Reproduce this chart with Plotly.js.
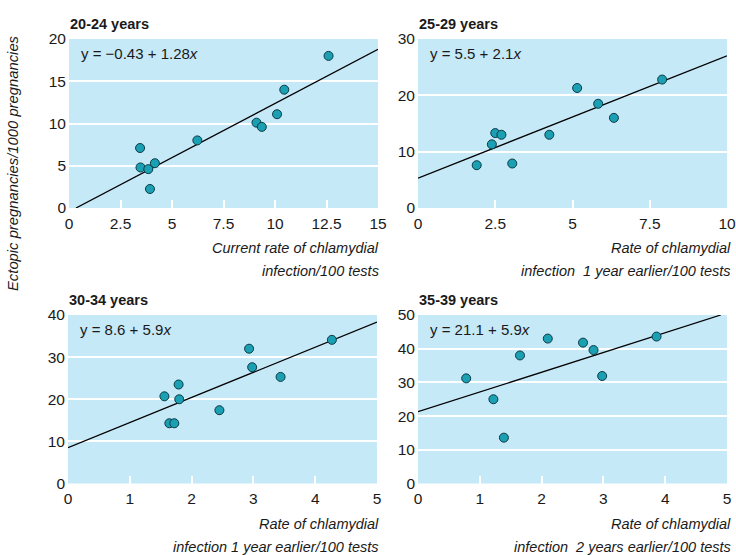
<!DOCTYPE html>
<html>
<head>
<meta charset="utf-8">
<script src="https://cdn.plot.ly/plotly-3.0.1.min.js"></script>
<style>
html,body{margin:0;padding:0;background:#fff;}
#chart{width:736px;height:555px;}
</style>
</head>
<body>
<div id="chart"></div>
<script>
// ---- data ----
const panelTitles = ["20-24 years", "25-29 years", "30-34 years", "35-39 years"];
const equations = ["y = \u22120.43 + 1.28<i>x</i>", "y = 5.5 + 2.1<i>x</i>", "y = 8.6 + 5.9<i>x</i>", "y = 21.1 + 5.9<i>x</i>"];
const xTitles1 = ["Current rate of chlamydial", "Rate of chlamydial", "Rate of chlamydial", "Rate of chlamydial"];
const xTitles2 = ["infection/100 tests", "infection  1 year earlier/100 tests", "infection 1 year earlier/100 tests", "infection  2 years earlier/100 tests"];
const yTitle = "Ectopic pregnancies/1000 pregnancies";

const p1x = [3.45, 3.47, 3.85, 3.93, 4.17, 6.23, 9.10, 9.36, 10.10, 10.45, 12.60];
const p1y = [7.1, 4.8, 4.6, 2.25, 5.3, 8.0, 10.1, 9.6, 11.1, 14.0, 18.0];
const p2x = [1.90, 2.39, 2.50, 2.70, 3.05, 4.25, 5.15, 5.83, 6.34, 7.90];
const p2y = [7.6, 11.3, 13.3, 13.0, 7.9, 13.0, 21.3, 18.5, 16.0, 22.8];
const p3x = [1.56, 1.64, 1.72, 1.79, 1.80, 2.45, 2.93, 2.98, 3.44, 4.27];
const p3y = [20.7, 14.3, 14.3, 23.5, 20.0, 17.4, 32.0, 27.6, 25.3, 34.1];
const p4x = [0.78, 1.22, 1.39, 1.65, 2.10, 2.67, 2.84, 2.98, 3.86];
const p4y = [31.2, 25.0, 13.6, 38.0, 43.0, 41.8, 39.6, 31.9, 43.6];

// regression line end points
const l1x = [0.34, 15], l1y = [0, 18.77];
const l2x = [0, 10],    l2y = [5.3, 27.0];
const l3x = [0, 5],     l3y = [8.5, 38.3];
const l4x = [0, 4.9],   l4y = [21.3, 50];

const xTicks1 = [0, 2.5, 5, 7.5, 10, 12.5, 15];
const xTicks2 = [0, 2.5, 5, 7.5, 10];
const xTicks34 = [0, 1, 2, 3, 4, 5];
const yTicks1 = [0, 5, 10, 15, 20];
const yTicks2 = [0, 10, 20, 30];
const yTicks3 = [0, 10, 20, 30, 40];
const yTicks4 = [0, 10, 20, 30, 40, 50];

// ---- layout ----
const W = 736, H = 555;
const px = v => v / W;
const py = v => 1 - v / H;
const SANS = "'Liberation Sans', Arial, Helvetica, sans-serif";
const TXT = '#1a1a1a';
const markerStyle = {size: 9, color: '#1ba0b3', line: {color: '#0b3a44', width: 1}};
const lineStyle = {color: '#000', width: 1.3};

const boxes = [
  {x0: 69, x1: 378, y0: 39, y1: 208},
  {x0: 418, x1: 727, y0: 39, y1: 208},
  {x0: 68, x1: 377, y0: 315, y1: 483.5},
  {x0: 418, x1: 727, y0: 315, y1: 483.5}
];
const pts = [[p1x, p1y], [p2x, p2y], [p3x, p3y], [p4x, p4y]];
const lines = [[l1x, l1y], [l2x, l2y], [l3x, l3y], [l4x, l4y]];
const xr = [[0, 15], [0, 10], [0, 5], [0, 5]];
const yr = [[0, 20], [0, 30], [0, 40], [0, 50]];
const xt = [xTicks1, xTicks2, xTicks34, xTicks34];
const yt = [yTicks1, yTicks2, yTicks3, yTicks4];

const traces = [];
const layout = {
  width: W, height: H,
  margin: {l: 0, r: 0, t: 0, b: 0},
  paper_bgcolor: '#ffffff',
  plot_bgcolor: '#c6e9f8',
  showlegend: false,
  font: {family: SANS, size: 15, color: TXT},
  annotations: []
};

for (let i = 0; i < 4; i++) {
  const s = i === 0 ? '' : String(i + 1);
  const b = boxes[i];
  traces.push({x: lines[i][0], y: lines[i][1], xaxis: 'x' + s, yaxis: 'y' + s,
    type: 'scatter', mode: 'lines', line: lineStyle, hoverinfo: 'skip'});
  traces.push({x: pts[i][0], y: pts[i][1], xaxis: 'x' + s, yaxis: 'y' + s,
    type: 'scatter', mode: 'markers', marker: markerStyle, cliponaxis: false});
  layout['xaxis' + s] = {
    domain: [px(b.x0), px(b.x1)], anchor: 'y' + s, range: xr[i],
    tickvals: xt[i], ticktext: xt[i].map(String),
    ticks: 'inside', ticklen: 8, tickwidth: 2, tickcolor: '#ffffff',
    showgrid: false, zeroline: false, showline: false, ticklabelstandoff: 4,
    tickfont: {family: SANS, size: 15.5, color: TXT}, fixedrange: true
  };
  layout['yaxis' + s] = {
    domain: [py(b.y1), py(b.y0)], anchor: 'x' + s, range: yr[i],
    tickvals: yt[i], ticktext: yt[i].map(String),
    showgrid: true, gridcolor: '#ffffff', gridwidth: 2,
    zeroline: false, showline: false, ticks: '', ticklabelstandoff: 2,
    tickfont: {family: SANS, size: 15.5, color: TXT}, fixedrange: true
  };
  // panel title
  layout.annotations.push({xref: 'paper', yref: 'paper', x: px(b.x0 - 1), y: py(b.y0 - 15),
    xanchor: 'left', yanchor: 'middle', showarrow: false, text: '<b>' + panelTitles[i] + '</b>',
    font: {family: SANS, size: 14.5, color: TXT}});
  // equation
  layout.annotations.push({xref: 'paper', yref: 'paper', x: px(b.x0 + 10), y: py(b.y0 + 14),
    xanchor: 'left', yanchor: 'middle', showarrow: false, text: equations[i],
    font: {family: SANS, size: 15, color: TXT}});
  // x title two lines, right aligned
  const rx = (i % 2 === 0) ? 381 : 733;
  layout.annotations.push({xref: 'paper', yref: 'paper', x: px(rx), y: py(b.y1 + 40),
    xanchor: 'right', yanchor: 'middle', showarrow: false, text: '<i>' + xTitles1[i] + '</i>',
    font: {family: SANS, size: 14.5, color: TXT}});
  layout.annotations.push({xref: 'paper', yref: 'paper', x: px(rx), y: py(b.y1 + 63),
    xanchor: 'right', yanchor: 'middle', showarrow: false, text: '<i>' + xTitles2[i].replace(/  /g, '&nbsp; ') + '</i>',
    font: {family: SANS, size: 14.5, color: TXT}});
}
// shared y title
layout.annotations.push({xref: 'paper', yref: 'paper', x: px(13), y: py(163),
  xanchor: 'center', yanchor: 'middle', textangle: -90, showarrow: false,
  text: '<i>' + yTitle + '</i>', font: {family: SANS, size: 14.8, color: TXT}});

Plotly.newPlot('chart', traces, layout, {displayModeBar: false, staticPlot: true});
</script>
</body>
</html>
